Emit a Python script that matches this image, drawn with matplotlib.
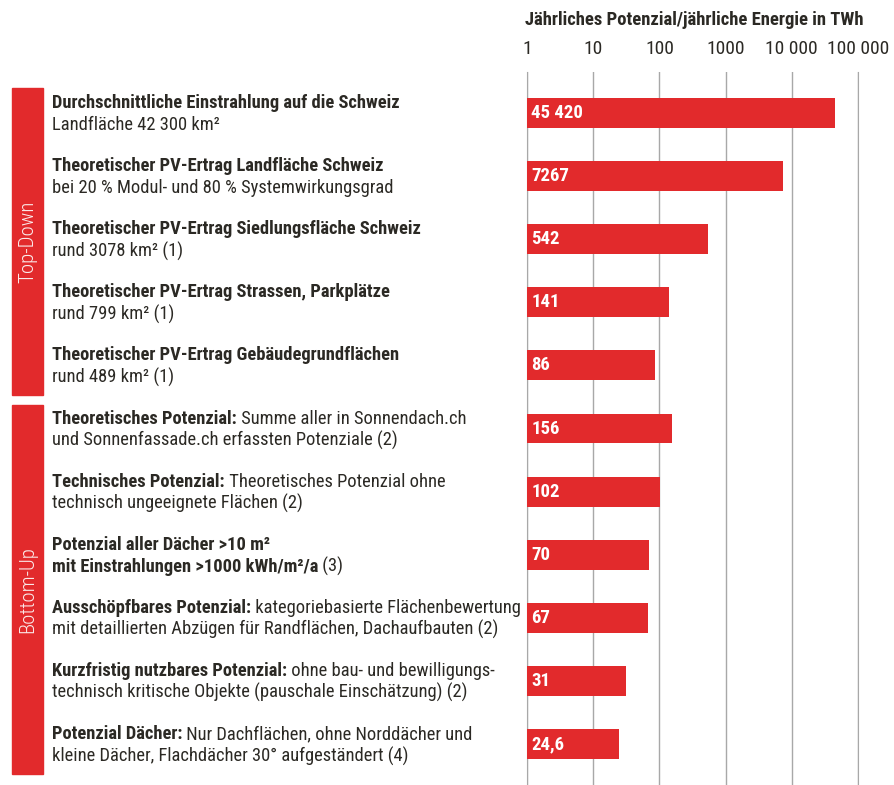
import matplotlib
matplotlib.use('Agg')
import matplotlib.pyplot as plt
from matplotlib import transforms
from matplotlib.patches import Rectangle
from matplotlib.ticker import NullLocator


values = [45420, 7267, 542, 141, 86, 156, 102, 70, 67, 31, 24.6]
value_labels = ['45 420', '7267', '542', '141', '86', '156', '102', '70', '67', '31', '24,6']

# (bold part, regular part) for first and second text line of every row
line1 = [
    ('Durchschnittliche Einstrahlung auf die Schweiz', ''),
    ('Theoretischer PV-Ertrag Landfläche Schweiz', ''),
    ('Theoretischer PV-Ertrag Siedlungsfläche Schweiz', ''),
    ('Theoretischer PV-Ertrag Strassen, Parkplätze', ''),
    ('Theoretischer PV-Ertrag Gebäudegrundflächen', ''),
    ('Theoretisches Potenzial:', ' Summe aller in Sonnendach.ch'),
    ('Technisches Potenzial:', ' Theoretisches Potenzial ohne'),
    ('Potenzial aller Dächer >10 m²', ''),
    ('Ausschöpfbares Potenzial:', ' kategoriebasierte Flächenbewertung'),
    ('Kurzfristig nutzbares Potenzial:', ' ohne bau- und bewilligungs-'),
    ('Potenzial Dächer:', ' Nur Dachflächen, ohne Norddächer und'),
]
line2 = [
    ('', 'Landfläche 42 300 km²'),
    ('', 'bei 20 % Modul- und 80 % Systemwirkungsgrad'),
    ('', 'rund 3078 km² (1)'),
    ('', 'rund 799 km² (1)'),
    ('', 'rund 489 km² (1)'),
    ('', 'und Sonnenfassade.ch erfassten Potenziale (2)'),
    ('', 'technisch ungeeignete Flächen (2)'),
    ('mit Einstrahlungen >1000 kWh/m²/a', ' (3)'),
    ('', 'mit detaillierten Abzügen für Randflächen, Dachaufbauten (2)'),
    ('', 'technisch kritische Objekte (pauschale Einschätzung) (2)'),
    ('', 'kleine Dächer, Flachdächer 30° aufgeständert (4)'),
]

groups = ['Top-Down', 'Bottom-Up']
group_first = [0, 5]
group_last = [4, 10]

tick_values = [1, 10, 100, 1000, 10000, 100000]
tick_labels = ['1', '10', '100', '1000', '10 000', '100 000']

title = 'Jährliches Potenzial/jährliche Energie in TWh'

RED = '#e22a2c'
DARK = '#2b2924'
FS = 13.3

plt.rcParams['font.family'] = ['Roboto Condensed', 'DejaVu Sans']

W, H = 894, 785
fig = plt.figure(figsize=(W / 100, H / 100), dpi=100)
ax = fig.add_axes([527 / W, 0, (858 - 527) / W, 1 - 72 / H])

pos = list(range(len(values)))
ax.barh(pos, values, height=0.475, color=RED, zorder=3)
ax.set_xscale('log')
ax.set_xlim(1, 100000)
ax.set_ylim(len(values) - 0.35, -0.65)

ax.set_xticks(tick_values)
ax.set_xticklabels(tick_labels, fontsize=14, color=DARK)
ax.xaxis.set_minor_locator(NullLocator())
ax.xaxis.tick_top()
ax.tick_params(axis='x', length=0, pad=10)
ax.set_yticks([])
ax.grid(axis='x', color='#a8a8a8', lw=1, zorder=0)
for side in ['top', 'bottom']:
    ax.spines[side].set_visible(False)
for side in ['left', 'right']:
    ax.spines[side].set_color('#a8a8a8')

for i, lab in enumerate(value_labels):
    ax.annotate(lab, xy=(1, i), xytext=(3, 0), textcoords='offset points',
                va='center', ha='left', color='white', fontsize=13.5,
                fontweight='bold', zorder=4)

fig.text(525 / W, 1 - 20 / H, title, fontsize=13.4, fontweight='bold',
         color=DARK, ha='left', va='center')

# left side: descriptions, x in figure pixels, y in data coordinates
trans = transforms.blended_transform_factory(fig.transFigure, ax.transData)
x_text = 52 / W


def draw_line(y, parts, dy):
    bold, reg = parts
    t = transforms.offset_copy(trans, fig=fig, y=dy, units='dots')
    if bold:
        b = ax.text(x_text, y, bold, transform=t, fontsize=FS, fontweight='bold',
                    color=DARK, ha='left', va='center', clip_on=False)
        if reg:
            ax.annotate(reg, xy=(1, 0), xycoords=b, va='bottom', ha='left',
                        fontsize=FS, color=DARK)
    else:
        ax.text(x_text, y, reg, transform=t, fontsize=FS, color=DARK,
                ha='left', va='center', clip_on=False)


for i in pos:
    draw_line(i, line1[i], 10)
    draw_line(i, line2[i], -12)

for name, a, b in zip(groups, group_first, group_last):
    y0 = a - 0.4 if a == 0 else a - 0.37
    y1 = b + 0.47
    rect = Rectangle((12 / W, y0), 31 / W, y1 - y0, transform=trans,
                     color=RED, clip_on=False)
    ax.add_patch(rect)
    ax.text(27.5 / W, (y0 + y1) / 2, name, transform=trans, rotation=90,
            color='#fbeaea', fontsize=15, fontweight='light',
            ha='center', va='center', clip_on=False)

fig.savefig('out.png', dpi=100)
